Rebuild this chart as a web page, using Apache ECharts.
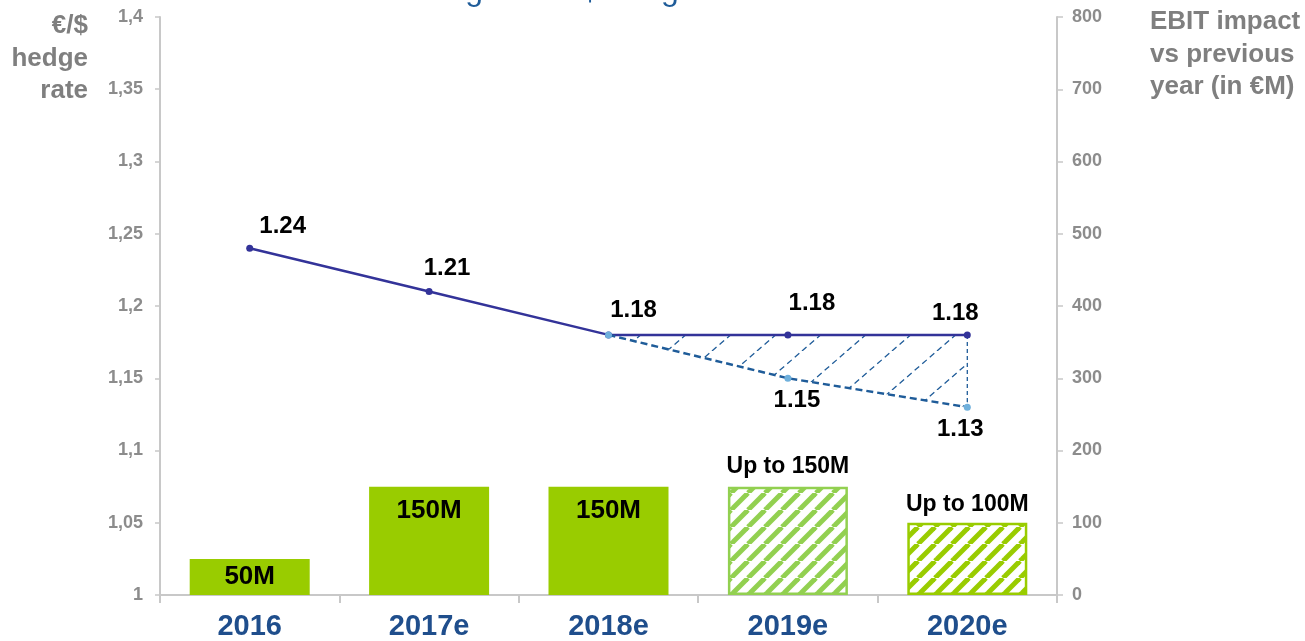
<!DOCTYPE html>
<html><head><meta charset="utf-8">
<script src="https://cdn.jsdelivr.net/npm/echarts@6/dist/echarts.min.js"></script>
<style>html,body{margin:0;padding:0;background:#fff}#c{width:1305px;height:641px}</style>
</head><body><div id="c"></div>
<script>
var categories = ['2016','2017e','2018e','2019e','2020e'];
var hedgeRates = [1.24, 1.21, 1.18, 1.18, 1.18];
var targetRates = [null, null, 1.18, 1.15, 1.13];
var ebitImpact = [50, 150, 150, 150, 100];
var ebitLabels = ['50M','150M','150M','Up to 150M','Up to 100M'];
var hedgeLabels = ['1.24','1.21','1.18','1.18','1.18'];
var targetLabels = ['', '', '', '1.15', '1.13'];

var FONT = '"Liberation Sans", Arial, sans-serif';

function stripePattern(color, size, width) {
  var c = document.createElement('canvas');
  c.width = size; c.height = size;
  var ctx = c.getContext('2d');
  ctx.fillStyle = '#fff'; ctx.fillRect(0,0,size,size);
  ctx.strokeStyle = color; ctx.lineWidth = width;
  for (var k = -1; k <= 1; k++) {
    ctx.beginPath();
    ctx.moveTo(k*size, size); ctx.lineTo(k*size + size, 0);
    ctx.stroke();
  }
  return c;
}
function dashedHatch(color, w, h, shift) {
  var c = document.createElement('canvas');
  c.width = w; c.height = h;
  var ctx = c.getContext('2d');
  ctx.strokeStyle = color; ctx.lineWidth = 1.3;
  ctx.setLineDash([6,4]);
  for (var k = -1; k <= 2; k++) {
    ctx.beginPath();
    ctx.moveTo(k*w - shift, h); ctx.lineTo(k*w - shift + w, 0);
    ctx.stroke();
  }
  return c;
}
var pat2019 = stripePattern('#92D050', 17, 5);
var pat2020 = stripePattern('#99CC00', 17, 5);
var hatch = dashedHatch('#1F5C99', 45, 39, 8);

var chart = echarts.init(document.getElementById('c'));

var barData = ebitImpact.map(function (v, i) {
  var d = { value: v, label: { formatter: ebitLabels[i] } };
  if (i === 0) { d.label.position = 'inside'; }
  else if (i < 3) { d.label.position = 'insideTop'; d.label.distance = 11; }
  else {
    d.label.position = 'top'; d.label.distance = i === 3 ? 8 : 7; d.label.fontSize = 23;
    d.itemStyle = { color: { image: i === 3 ? pat2019 : pat2020, repeat: 'repeat' },
                    borderColor: i === 3 ? '#92D050' : '#99CC00', borderWidth: 2.5 };
  }
  return d;
});

var lineLabelOffsets = [[33,-1],[18,-3],[25,-4],[24,-11],[-12,-1]];
var hedgeData = hedgeRates.map(function (v, i) {
  return { value: v, label: { show: true, formatter: hedgeLabels[i], position: 'top', distance: 5, offset: lineLabelOffsets[i] } };
});
var targetOffsets = [[0,0],[0,0],[0,0],[9,2],[-7,2]];
var targetData = targetRates.map(function (v, i) {
  return { value: v, label: { show: targetLabels[i] !== '', formatter: targetLabels[i], position: 'bottom', distance: 5, offset: targetOffsets[i] } };
});

chart.setOption({
  animation: false,
  backgroundColor: '#fff',
  textStyle: { fontFamily: FONT },
  grid: { left: 160, right: 248, top: 17, bottom: 46 },
  graphic: [
    { type: 'text', x: 580, y: 7, style: { text: 'on targeted €/$ hedge rates', fill: '#1F5C99', fontSize: 32, fontFamily: FONT, align: 'center', verticalAlign: 'bottom' } },
    { type: 'text', x: 88, y: 10, style: { text: '€/$\nhedge\nrate', fill: '#7F7F7F', fontSize: 26, fontWeight: 'bold', fontFamily: FONT, align: 'right', verticalAlign: 'top', lineHeight: 32.5 } },
    { type: 'text', x: 1150, y: 6, style: { text: 'EBIT impact\nvs previous\nyear (in €M)', fill: '#7F7F7F', fontSize: 26, fontWeight: 'bold', fontFamily: FONT, align: 'left', verticalAlign: 'top', lineHeight: 32.5 } }
  ],
  xAxis: {
    type: 'category', data: categories, boundaryGap: true,
    axisLine: { lineStyle: { color: '#C8C8C8', width: 2 } },
    axisTick: { show: true, length: 8, lineStyle: { color: '#C8C8C8', width: 2 } },
    axisLabel: { color: '#1F4E8C', fontSize: 29, fontWeight: 'bold', margin: 17, fontFamily: FONT }
  },
  yAxis: [
    {
      type: 'value', min: 1, max: 1.4, interval: 0.05, position: 'left',
      axisLine: { show: true, lineStyle: { color: '#C8C8C8', width: 2 } },
      axisTick: { show: true, length: 5, lineStyle: { color: '#C8C8C8', width: 1.5 } },
      splitLine: { show: false },
      axisLabel: { color: '#8C8C8C', fontSize: 18, fontWeight: 'bold', margin: 17, fontFamily: FONT,
        formatter: function (v) { return String(Number(v.toFixed(2))).replace('.', ','); } }
    },
    {
      type: 'value', min: 0, max: 800, interval: 100, position: 'right',
      axisLine: { show: true, lineStyle: { color: '#C8C8C8', width: 2 } },
      axisTick: { show: true, length: 6, lineStyle: { color: '#C8C8C8', width: 1.5 } },
      splitLine: { show: false },
      axisLabel: { color: '#8C8C8C', fontSize: 18, fontWeight: 'bold', margin: 15, fontFamily: FONT }
    }
  ],
  series: [
    {
      type: 'bar', yAxisIndex: 1, data: barData, barWidth: 120,
      itemStyle: { color: '#99CC00' },
      label: { show: true, color: '#000', fontSize: 26, fontWeight: 'bold', fontFamily: FONT },
      z: 1
    },
    {
      type: 'custom', yAxisIndex: 0, z: 2, silent: true,
      data: [0],
      renderItem: function (params, api) {
        var top = [], bottom = [];
        for (var i = 0; i < categories.length; i++) {
          if (targetRates[i] == null) continue;
          top.push(api.coord([i, hedgeRates[i]]));
          bottom.push(api.coord([i, targetRates[i]]));
        }
        var pts = top.concat(bottom.slice().reverse());
        return {
          type: 'group',
          children: [
            { type: 'polygon', shape: { points: pts }, style: { fill: { image: hatch, repeat: 'repeat' }, stroke: null } },
            { type: 'line', shape: { x1: top[top.length-1][0], y1: top[top.length-1][1], x2: bottom[bottom.length-1][0], y2: bottom[bottom.length-1][1] },
              style: { stroke: '#1F5C99', lineWidth: 1.3, lineDash: [4,3] } }
          ]
        };
      }
    },
    {
      type: 'line', yAxisIndex: 0, data: hedgeData, z: 3,
      symbol: 'circle', symbolSize: 7,
      lineStyle: { color: '#333399', width: 2.5 },
      itemStyle: { color: '#333399' },
      label: { color: '#000', fontSize: 24, fontWeight: 'bold', fontFamily: FONT }
    },
    {
      type: 'line', yAxisIndex: 0, data: targetData, z: 4, connectNulls: false,
      symbol: 'circle', symbolSize: 7,
      lineStyle: { color: '#1F5C99', width: 2.5, type: [7,4] },
      itemStyle: { color: '#6FB0DC' },
      label: { color: '#000', fontSize: 24, fontWeight: 'bold', fontFamily: FONT }
    }
  ]
});
</script>
</body></html>
